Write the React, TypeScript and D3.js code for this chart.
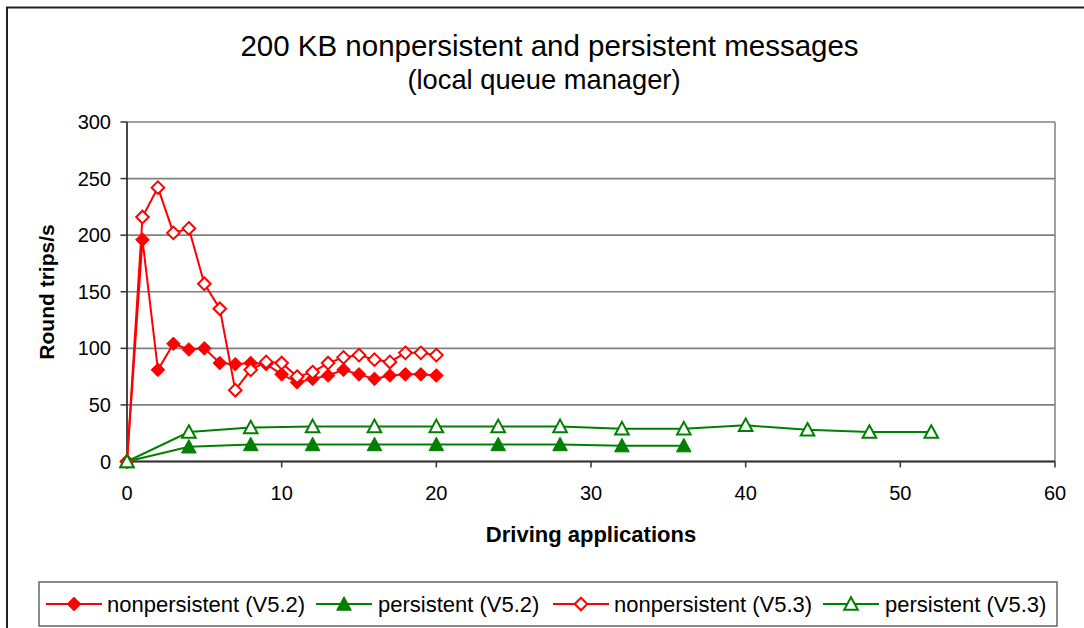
import React from "react";
import * as d3 from "d3";

const npX = d3.range(0, 21);
const npV52 = [0, 196, 81, 104, 99, 100, 87, 86, 87, 86, 77, 70, 73, 76, 81, 77, 73, 76, 77, 77, 76];
const npV53 = [0, 216, 242, 202, 206, 157, 135, 63, 81, 88, 87, 75, 79, 87, 92, 94, 90, 88, 96, 96, 94];
const pX52 = [0, 4, 8, 12, 16, 20, 24, 28, 32, 36];
const pV52 = [0, 13, 15, 15, 15, 15, 15, 15, 14, 14];
const pX53 = [0, 4, 8, 12, 16, 20, 24, 28, 32, 36, 40, 44, 48, 52];
const pV53 = [0, 26, 30, 31, 31, 31, 31, 31, 29, 29, 32, 28, 26, 26];
const xTicks = [0, 10, 20, 30, 40, 50, 60];
const yTicks = [0, 50, 100, 150, 200, 250, 300];
const legendLabels = ["nonpersistent (V5.2)", "persistent (V5.2)", "nonpersistent (V5.3)", "persistent (V5.3)"];

const RED = "#FF0000";
const GREEN = "#008000";
const FONT = "'Liberation Sans', Arial, sans-serif";

type Series = { name: string; xs: number[]; ys: number[]; color: string; shape: "diamond" | "triangle"; filled: boolean };

const series: Series[] = [
  { name: legendLabels[0], xs: npX, ys: npV52, color: RED, shape: "diamond", filled: true },
  { name: legendLabels[1], xs: pX52, ys: pV52, color: GREEN, shape: "triangle", filled: true },
  { name: legendLabels[2], xs: npX, ys: npV53, color: RED, shape: "diamond", filled: false },
  { name: legendLabels[3], xs: pX53, ys: pV53, color: GREEN, shape: "triangle", filled: false },
];

function markerPath(shape: string, filled: boolean) {
  if (shape === "diamond") {
    const r = filled ? 6.8 : 6.3;
    return `M0,${-r}L${r},0L0,${r}L${-r},0Z`;
  }
  const h = filled ? 7.3 : 6.8;
  return `M0,${-h}L${h},${h * 0.85}L${-h},${h * 0.85}Z`;
}

function Marker({ s, x, y }: { s: Series; x: number; y: number }) {
  return (
    <path
      d={markerPath(s.shape, s.filled)}
      transform={`translate(${x},${y})`}
      fill={s.filled ? s.color : "#fff"}
      stroke={s.color}
      strokeWidth={s.filled ? 1 : 2}
    />
  );
}

export default function App() {
  const W = 1084, H = 628;
  const x = d3.scaleLinear().domain([0, 60]).range([127, 1055]);
  const y = d3.scaleLinear().domain([0, 300]).range([461.5, 122]);
  const line = d3.line<[number, number]>().x((d) => x(d[0])).y((d) => y(d[1]));

  const legendItems = [
    { lx: 46, tx: 107 },
    { lx: 316, tx: 378 },
    { lx: 553, tx: 614 },
    { lx: 823, tx: 885 },
  ];

  return (
    <svg width={W} height={H} style={{ position: "absolute", left: 0, top: 0, display: "block" }} fontFamily={FONT}>
      <rect x={0} y={0} width={W} height={H} fill="#fff" />
      <rect x={7} y={7.5} width={1090} height={640} fill="#fff" stroke="#222" strokeWidth={2} />
      <text x={549.5} y={56} textAnchor="middle" fontSize={29.5} fill="#000">200 KB nonpersistent and persistent messages</text>
      <text x={544} y={89} textAnchor="middle" fontSize={27.3} fill="#000">(local queue manager)</text>

      {/* grid */}
      {yTicks.map((t) => (
        <line key={"g" + t} x1={127} x2={1055} y1={y(t)} y2={y(t)} stroke="#808080" strokeWidth={1.6} />
      ))}
      <line x1={1055} x2={1055} y1={y(300)} y2={y(0)} stroke="#808080" strokeWidth={1.5} />

      {/* axes */}
      <line x1={127} x2={127} y1={y(300)} y2={y(0)} stroke="#333" strokeWidth={1.8} />
      <line x1={127} x2={1055} y1={y(0)} y2={y(0)} stroke="#333" strokeWidth={1.8} />
      {yTicks.map((t) => (
        <g key={"y" + t}>
          <line x1={120.5} x2={127} y1={y(t)} y2={y(t)} stroke="#333" strokeWidth={1.5} />
          <text x={111} y={y(t) + 7} textAnchor="end" fontSize={20} fill="#000">{t}</text>
        </g>
      ))}
      {xTicks.map((t) => (
        <g key={"x" + t}>
          <line x1={x(t)} x2={x(t)} y1={y(0)} y2={y(0) + 6} stroke="#333" strokeWidth={1.5} />
          <text x={x(t)} y={500} textAnchor="middle" fontSize={20} fill="#000">{t}</text>
        </g>
      ))}
      <text x={591} y={542} textAnchor="middle" fontSize={22} fontWeight="bold" fill="#000">Driving applications</text>
      <text transform={`translate(54,292) rotate(-90)`} textAnchor="middle" fontSize={21} fontWeight="bold" fill="#000">Round trips/s</text>

      {/* series */}
      {series.map((s, i) => {
        const pts = s.xs.map((xv, j) => [xv, s.ys[j]] as [number, number]);
        return (
          <g key={"s" + i}>
            <path d={line(pts) || ""} fill="none" stroke={s.color} strokeWidth={2} />
            {pts.map((p, j) => (
              <Marker key={j} s={s} x={x(p[0])} y={y(p[1])} />
            ))}
          </g>
        );
      })}

      {/* legend */}
      <rect x={39} y={582} width={1018} height={44} fill="#fff" stroke="#666" strokeWidth={1.5} />
      {series.map((s, i) => {
        const it = legendItems[i];
        const cy = 604;
        return (
          <g key={"l" + i}>
            <line x1={it.lx} x2={it.lx + 56} y1={cy} y2={cy} stroke={s.color} strokeWidth={2} />
            <Marker s={s} x={it.lx + 28} y={cy} />
            <text x={it.tx} y={cy + 8} fontSize={22} fill="#000">{s.name}</text>
          </g>
        );
      })}
    </svg>
  );
}
